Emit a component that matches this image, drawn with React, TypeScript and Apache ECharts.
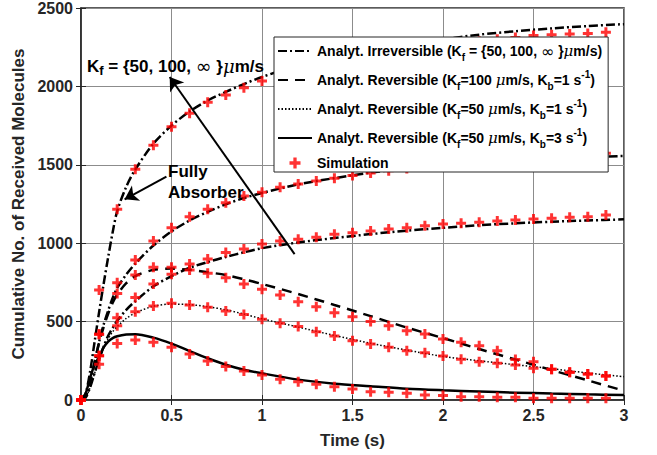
import React, { useEffect, useRef } from 'react';
import * as echarts from 'echarts';

const FONT = "'Liberation Sans', Arial, Helvetica, sans-serif";

// Axis ticks
const xTicks = [0, 0.5, 1, 1.5, 2, 2.5, 3];
const yTicks = [0, 500, 1000, 1500, 2000, 2500];

// Simulation sample times (s)
const simTime = [0, 0.1, 0.2, 0.3, 0.4, 0.5, 0.6, 0.7, 0.8, 0.9, 1.0, 1.1, 1.2, 1.3, 1.4, 1.5, 1.6, 1.7, 1.8, 1.9, 2.0, 2.1, 2.2, 2.3, 2.4, 2.5, 2.6, 2.7, 2.8, 2.9];
// Simulation results
const simIrrInf = [0, 701, 1216, 1471, 1624, 1743, 1828, 1899, 1945, 1992, 2035, 2070, 2102, 2130, 2155, 2178, 2198, 2216, 2233, 2248, 2262, 2275, 2288, 2300, 2312, 2325, 2330, 2334, 2338, 2345];
const simIrr100 = [0, 419, 748, 893, 1014, 1099, 1169, 1216, 1258, 1301, 1325, 1357, 1378, 1397, 1414, 1432, 1448, 1462, 1476, 1489, 1500, 1511, 1521, 1530, 1539, 1547, 1554, 1561, 1567, 1573];
const simIrr50 = [0, 283, 525, 653, 740, 802, 867, 899, 940, 963, 995, 1014, 1025, 1038, 1057, 1067, 1078, 1091, 1099, 1112, 1122, 1127, 1133, 1142, 1148, 1154, 1159, 1165, 1169, 1180];
const simRev100Kb1 = [0, 419, 680, 797, 846, 846, 829, 808, 780, 740, 706, 670, 627, 595, 557, 531, 500, 474, 442, 421, 389, 368, 346, 314, 258, 244, 196, 177, 166, 153];
const simRev50Kb1 = [0, 283, 474, 563, 600, 617, 606, 591, 568, 546, 515, 489, 468, 436, 408, 378, 357, 336, 314, 302, 281, 260, 244, 234, 223, 202, 196, 177, 166, 153];
const simRev50Kb3 = [0, 228, 361, 383, 368, 336, 293, 249, 213, 185, 159, 132, 117, 100, 85, 70, 53, 49, 43, 32, 28, 21, 21, 17, 17, 11, 11, 11, 11, 11];

// Analytical curves sample times (s)
const lineTime = [0, 0.025, 0.05, 0.075, 0.1, 0.125, 0.15, 0.175, 0.2, 0.25, 0.3, 0.4, 0.5, 0.6, 0.7, 0.8, 0.9, 1.0, 1.2, 1.4, 1.6, 1.8, 2.0, 2.2, 2.4, 2.6, 2.8, 3.0];
const anIrrInf = [0, 40, 180, 370, 560, 740, 910, 1070, 1205, 1360, 1470, 1635, 1750, 1840, 1910, 1965, 2015, 2060, 2135, 2190, 2232, 2268, 2300, 2330, 2352, 2370, 2385, 2397];
const anIrr100 = [0, 20, 110, 240, 370, 480, 570, 650, 715, 800, 870, 985, 1075, 1145, 1200, 1248, 1288, 1320, 1375, 1415, 1450, 1478, 1500, 1518, 1532, 1542, 1550, 1556];
const anIrr50 = [0, 15, 80, 170, 260, 340, 410, 460, 505, 575, 630, 725, 790, 843, 880, 912, 942, 968, 1005, 1033, 1058, 1080, 1098, 1115, 1127, 1137, 1145, 1152];
const anRev100Kb1 = [0, 20, 110, 240, 365, 465, 550, 620, 672, 745, 790, 830, 838, 830, 815, 797, 770, 740, 676, 606, 535, 462, 395, 325, 258, 191, 125, 59];
const anRev50Kb1 = [0, 15, 80, 170, 258, 330, 390, 435, 468, 520, 555, 598, 612, 608, 595, 575, 548, 518, 465, 412, 362, 318, 278, 250, 225, 200, 172, 149];
const anRev50Kb3 = [0, 40, 140, 225, 275, 335, 372, 395, 407, 418, 420, 398, 360, 312, 266, 225, 193, 170, 130, 104, 88, 72, 62, 54, 47, 41, 36, 32];

const N_IRR = 'Analyt. Irreversible';
const N_R1001 = 'Analyt. Reversible 100/1';
const N_R501 = 'Analyt. Reversible 50/1';
const N_R503 = 'Analyt. Reversible 50/3';
const N_SIM = 'Simulation';

const legendLabels: Record<string, string> = {
  [N_IRR]: 'Analyt. Irreversible (K{sub|f} = {50, 100, {inf|∞} }{mu|μ}m/s)',
  [N_R1001]: 'Analyt. Reversible (K{sub|f}=100 {mu|μ}m/s, K{sub|b}=1 s{sup|-1})',
  [N_R501]: 'Analyt. Reversible (K{sub|f}=50 {mu|μ}m/s, K{sub|b}=1 s{sup|-1})',
  [N_R503]: 'Analyt. Reversible (K{sub|f}=50 {mu|μ}m/s, K{sub|b}=3 s{sup|-1})',
  [N_SIM]: '{sim|Simulation}',
};

const PLUS = 'path://M3.5,0H6.5V3.5H10V6.5H6.5V10H3.5V6.5H0V3.5H3.5Z';

const pair = (t: number[], v: number[]) => t.map((x, i) => [x, v[i]]);

const richStyles = (size: number) => ({
  sub: { fontFamily: FONT, fontWeight: 'bold', fontSize: size - 4, lineHeight: 10, verticalAlign: 'bottom', color: '#000' },
  sup: { fontFamily: FONT, fontWeight: 'bold', fontSize: size - 4, lineHeight: 10, verticalAlign: 'top', color: '#000' },
  mu: { fontFamily: "'DejaVu Serif', 'Liberation Serif', serif", fontStyle: 'italic', fontWeight: 'normal', fontSize: size + 1, color: '#000' },
  inf: { fontFamily: "'DejaVu Sans', sans-serif", fontWeight: 'normal', fontSize: size + 2, color: '#000' },
  sim: { fontFamily: FONT, fontWeight: 'bold', fontSize: size, lineHeight: 14, color: '#000' },
});

const hiddenSymbol = { color: 'rgba(0,0,0,0)', borderWidth: 0, opacity: 0 };

export default function App() {
  const ref = useRef<HTMLDivElement>(null);
  useEffect(() => {
    if (!ref.current) return;
    const chart = echarts.init(ref.current, null, { renderer: 'svg' });
    const axisColor = '#262626';
    const lineBase = { type: 'line', symbol: 'none', showSymbol: false, smooth: 0.3, z: 2, emphasis: { disabled: true }, itemStyle: { color: '#000' } };
    const option: any = {
      animation: false,
      backgroundColor: '#ffffff',
      grid: { left: 81, right: 33, top: 8, bottom: 55, show: true, borderColor: axisColor, borderWidth: 1.5 },
      xAxis: [
        {
          type: 'value', min: xTicks[0], max: xTicks[xTicks.length - 1], interval: xTicks[1] - xTicks[0],
          name: 'Time (s)', nameLocation: 'middle', nameGap: 32,
          nameTextStyle: { fontFamily: FONT, fontWeight: 'bold', fontSize: 17, color: axisColor },
          axisLine: { show: true, onZero: false, lineStyle: { color: axisColor, width: 1.5 } },
          axisTick: { show: true, inside: true, length: 5, lineStyle: { color: axisColor } },
          axisLabel: { fontFamily: FONT, fontWeight: 'bold', fontSize: 16, color: axisColor, margin: 7, formatter: (v: number) => String(v) },
          splitLine: { show: true, lineStyle: { color: '#8c8c8c', width: 1 } },
        },
        {
          type: 'value', position: 'top', min: xTicks[0], max: xTicks[xTicks.length - 1], interval: xTicks[1] - xTicks[0],
          axisLine: { show: false }, axisLabel: { show: false }, splitLine: { show: false },
          axisTick: { show: true, inside: true, length: 5, lineStyle: { color: axisColor } },
        },
      ],
      yAxis: [
        {
          type: 'value', min: yTicks[0], max: yTicks[yTicks.length - 1], interval: yTicks[1] - yTicks[0],
          name: 'Cumulative No. of Received Molecules', nameLocation: 'middle', nameGap: 47,
          nameTextStyle: { fontFamily: FONT, fontWeight: 'bold', fontSize: 17, color: axisColor },
          axisLine: { show: true, onZero: false, lineStyle: { color: axisColor, width: 1.5 } },
          axisTick: { show: true, inside: true, length: 5, lineStyle: { color: axisColor } },
          axisLabel: { fontFamily: FONT, fontWeight: 'bold', fontSize: 16, color: axisColor, margin: 8, formatter: (v: number) => String(v) },
          splitLine: { show: true, lineStyle: { color: '#8c8c8c', width: 1 } },
        },
        {
          type: 'value', position: 'right', min: yTicks[0], max: yTicks[yTicks.length - 1], interval: yTicks[1] - yTicks[0],
          axisLine: { show: false }, axisLabel: { show: false }, splitLine: { show: false },
          axisTick: { show: true, inside: true, length: 5, lineStyle: { color: axisColor } },
        },
      ],
      legend: {
        orient: 'vertical', left: 274, top: 37,
        padding: [3, 6, 2, 3], itemGap: 7, itemWidth: 34, itemHeight: 11,
        backgroundColor: '#ffffff', borderColor: axisColor, borderWidth: 1, borderRadius: 0,
        selectedMode: false,
        data: [
          { name: N_IRR, itemStyle: hiddenSymbol },
          { name: N_R1001, itemStyle: hiddenSymbol },
          { name: N_R501, itemStyle: hiddenSymbol },
          { name: N_R503, itemStyle: hiddenSymbol },
          { name: N_SIM },
        ],
        formatter: (name: string) => legendLabels[name],
        textStyle: { fontFamily: FONT, fontWeight: 'bold', fontSize: 14, color: '#000', lineHeight: 22, rich: richStyles(14) },
      },
      graphic: [
        {
          type: 'text', x: 87, y: 66, z: 10,
          style: {
            text: 'K{sub|f} = {50, 100, {inf|∞} }{mu|μ}m/s',
            fontFamily: FONT, fontWeight: 'bold', fontSize: 17, fill: '#000', verticalAlign: 'middle', lineHeight: 22,
            rich: richStyles(17),
          },
        },
        { type: 'text', x: 168, y: 171, z: 10, style: { text: 'Fully', fontFamily: FONT, fontWeight: 'bold', fontSize: 17, fill: '#000', verticalAlign: 'middle' } },
        { type: 'text', x: 168, y: 192, z: 10, style: { text: 'Absorber', fontFamily: FONT, fontWeight: 'bold', fontSize: 17, fill: '#000', verticalAlign: 'middle' } },
      ],
      series: [
        { ...lineBase, name: N_IRR, data: pair(lineTime, anIrrInf), lineStyle: { color: '#000', width: 2.5, type: [9, 3, 2, 3] },
          markLine: {
            silent: true, symbol: ['none', 'arrow'], symbolSize: 13,
            lineStyle: { color: '#000', width: 2, type: 'solid' }, itemStyle: { color: '#000' },
            label: { show: false }, emphasis: { disabled: true },
            data: [
              [{ coord: [1.18, 930] }, { coord: [0.49, 2060] }],
              [{ coord: [0.472, 1424] }, { coord: [0.241, 1280] }],
            ],
          },
        },
        { ...lineBase, name: N_IRR, data: pair(lineTime, anIrr100), lineStyle: { color: '#000', width: 2.5, type: [9, 3, 2, 3] } },
        { ...lineBase, name: N_IRR, data: pair(lineTime, anIrr50), lineStyle: { color: '#000', width: 2.5, type: [9, 3, 2, 3] } },
        { ...lineBase, name: N_R1001, data: pair(lineTime, anRev100Kb1), lineStyle: { color: '#000', width: 2.5, type: [10, 7] } },
        { ...lineBase, name: N_R501, data: pair(lineTime, anRev50Kb1), lineStyle: { color: '#000', width: 1.5, type: [1.5, 2] } },
        { ...lineBase, name: N_R503, data: pair(lineTime, anRev50Kb3), lineStyle: { color: '#000', width: 2.5, type: 'solid' } },
        {
          type: 'scatter', name: N_SIM, symbol: PLUS, symbolSize: 10, z: 3,
          itemStyle: { color: '#ff0000' }, emphasis: { disabled: true },
          data: [
            ...pair(simTime, simIrrInf), ...pair(simTime, simIrr100), ...pair(simTime, simIrr50),
            ...pair(simTime, simRev100Kb1), ...pair(simTime, simRev50Kb1), ...pair(simTime, simRev50Kb3),
          ],
        },
      ],
    };
    chart.setOption(option);
    return () => chart.dispose();
  }, []);
  return <div ref={ref} style={{ width: 657, height: 455, position: 'absolute', left: 0, top: 0 }} />;
}
